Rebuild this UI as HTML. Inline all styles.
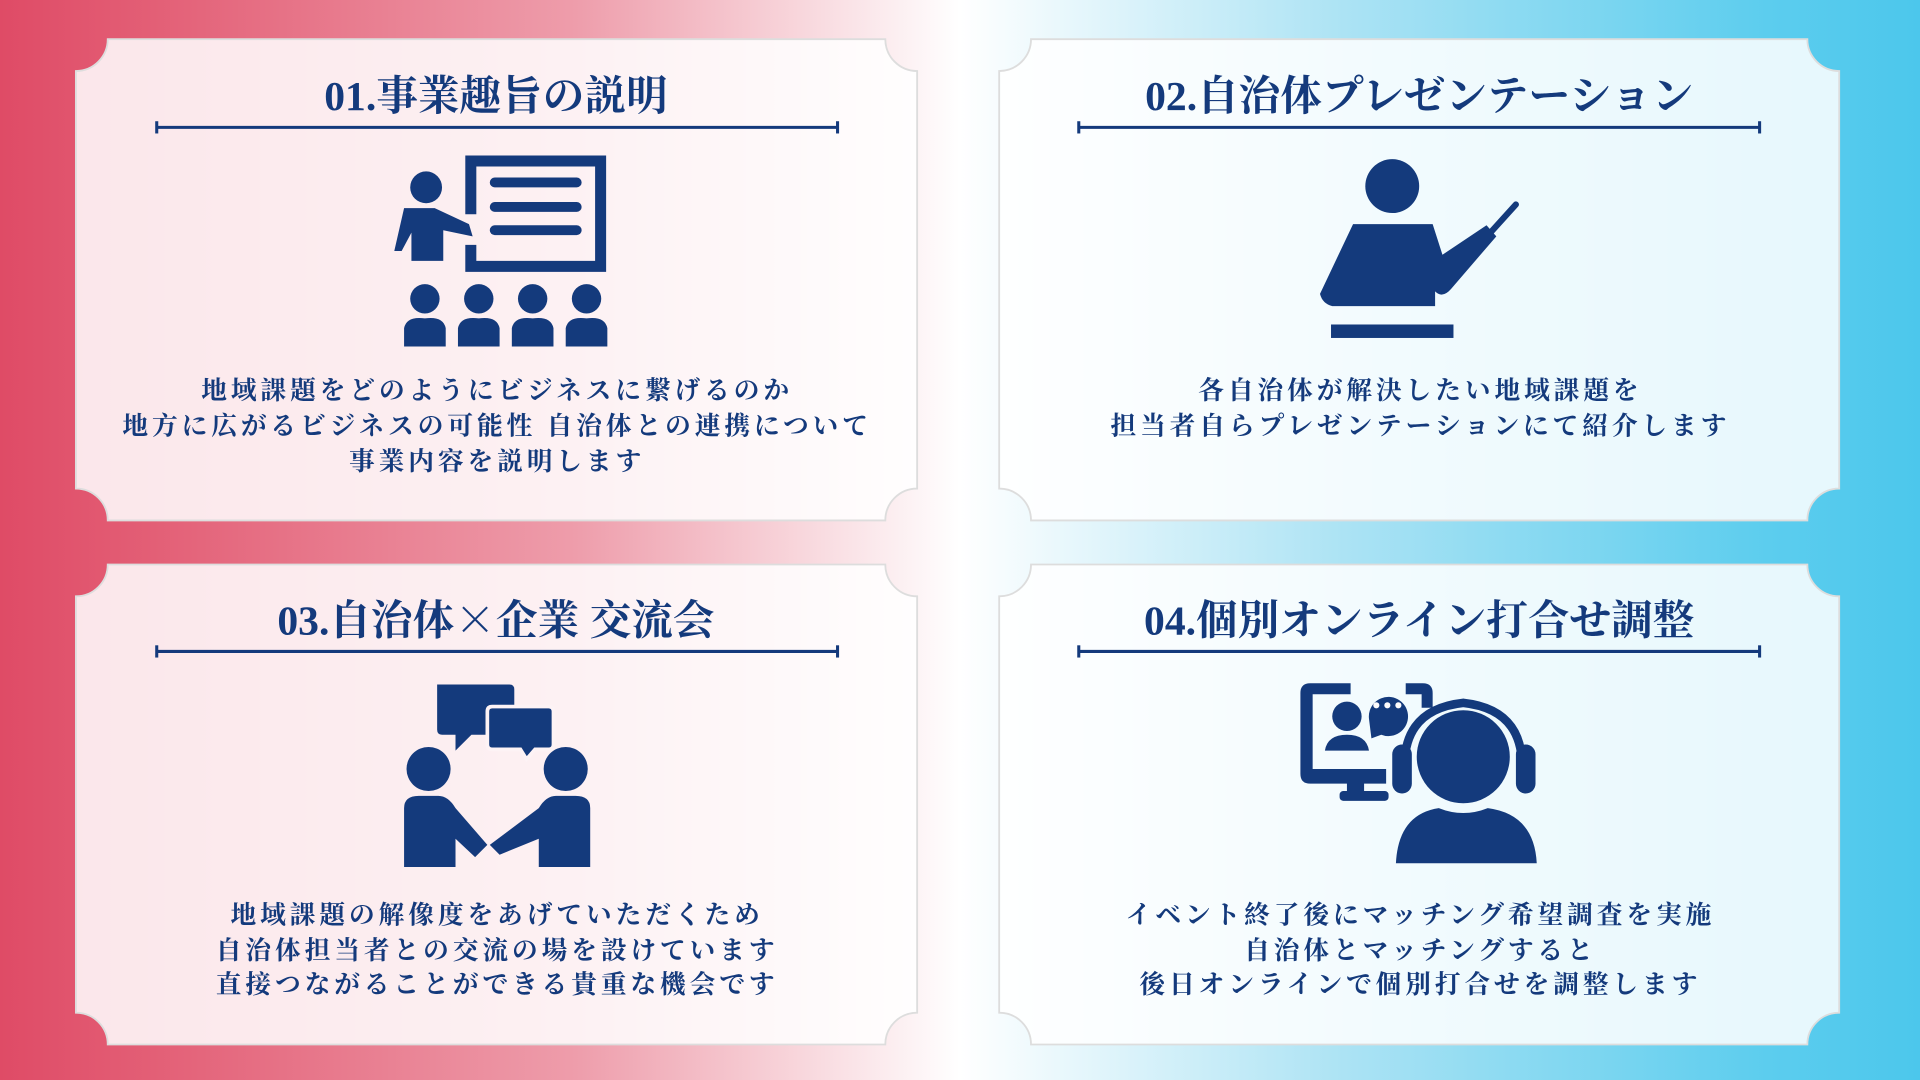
<!DOCTYPE html>
<html><head><meta charset="utf-8"><style>
html,body{margin:0;padding:0;width:1920px;height:1080px;overflow:hidden}
svg{display:block}
text{font-family:"Liberation Serif","Noto Serif CJK SC","Noto Serif CJK JP",serif;font-weight:bold;fill:#143a7c;text-anchor:middle}
.t{font-size:34px}
.b{font-size:21px;letter-spacing:3.2px}
.cj{font-family:"Noto Serif CJK SC",serif}
</style></head><body>
<svg width="1920" height="1080" viewBox="0 0 1568 882" xmlns="http://www.w3.org/2000/svg">
<defs>
<linearGradient id="bg" x1="0" x2="1" y1="0" y2="0">
<stop offset="0" stop-color="#df4b66"/>
<stop offset="0.08" stop-color="#e35f76"/>
<stop offset="0.3" stop-color="#ee9dab"/>
<stop offset="0.5" stop-color="#ffffff"/>
<stop offset="0.7" stop-color="#ace3f4"/>
<stop offset="0.92" stop-color="#5ccdee"/>
<stop offset="1" stop-color="#4cc7ec"/>
</linearGradient>
</defs>
<rect width="1568" height="882" fill="url(#bg)"/>
<g fill="#ffffff" fill-opacity="0.86" stroke="#dddddd" stroke-width="1.5">
<path d="M88,32 H723 A26,26 0 0 0 749,58 V399 A26,26 0 0 0 723,425 H88 A26,26 0 0 0 62,399 V58 A26,26 0 0 0 88,32 Z"/>
<path d="M842,32 H1476 A26,26 0 0 0 1502,58 V399 A26,26 0 0 0 1476,425 H842 A26,26 0 0 0 816,399 V58 A26,26 0 0 0 842,32 Z"/>
<path d="M88,461 H723 A26,26 0 0 0 749,487 V827 A26,26 0 0 0 723,853 H88 A26,26 0 0 0 62,827 V487 A26,26 0 0 0 88,461 Z"/>
<path d="M842,461 H1476 A26,26 0 0 0 1502,487 V827 A26,26 0 0 0 1476,853 H842 A26,26 0 0 0 816,827 V487 A26,26 0 0 0 842,461 Z"/>
</g>
<g stroke="#143a7c" stroke-width="2.5">
<line x1="128" y1="104" x2="684" y2="104"/><line x1="128" y1="99" x2="128" y2="109"/><line x1="684" y1="99" x2="684" y2="109"/>
<line x1="881" y1="104" x2="1437" y2="104"/><line x1="881" y1="99" x2="881" y2="109"/><line x1="1437" y1="99" x2="1437" y2="109"/>
<line x1="128" y1="532" x2="684" y2="532"/><line x1="128" y1="527" x2="128" y2="537"/><line x1="684" y1="527" x2="684" y2="537"/>
<line x1="881" y1="532" x2="1437" y2="532"/><line x1="881" y1="527" x2="881" y2="537"/><line x1="1437" y1="527" x2="1437" y2="537"/>
</g>
<text class="t" x="405" y="90">01.事業趣旨の説明</text>
<text class="t" x="1159" y="90">02.自治体プレゼンテーション</text>
<text class="t" x="405" y="518">03.自治体<tspan class="cj">×</tspan>企業 交流会</text>
<text class="t" x="1159" y="518">04.個別オンライン打合せ調整</text>
<text class="b" x="406" y="326">地域課題をどのようにビジネスに繋げるのか</text>
<text class="b" x="406" y="355">地方に広がるビジネスの可能性 自治体との連携について</text>
<text class="b" x="406" y="384">事業内容を説明します</text>
<text class="b" x="1160" y="326">各自治体が解決したい地域課題を</text>
<text class="b" x="1160" y="355">担当者自らプレゼンテーションにて紹介します</text>
<text class="b" x="406" y="754">地域課題の解像度をあげていただくため</text>
<text class="b" x="406" y="783">自治体担当者との交流の場を設けています</text>
<text class="b" x="406" y="811">直接つながることができる貴重な機会です</text>
<text class="b" x="1160" y="754">イベント終了後にマッチング希望調査を実施</text>
<text class="b" x="1160" y="783">自治体とマッチングすると</text>
<text class="b" x="1160" y="811">後日オンラインで個別打合せを調整します</text>
<g fill="#143a7c">
<path d="M380,127 H495 V222 H380 V200 H389 V213 H486 V136 H389 V175 H380 Z"/>
<rect x="400" y="145" width="75" height="8" rx="4"/><rect x="400" y="165" width="75" height="8" rx="4"/><rect x="400" y="184" width="75" height="8" rx="4"/>
<circle cx="348" cy="153" r="13"/>
<path d="M330,170 H355 L383,183 L386,193 L362,188 V213 H336 V190 L328,205 H322 Z"/>
<g><circle cx="347" cy="244" r="12"/><circle cx="391" cy="244" r="12"/><circle cx="435" cy="244" r="12"/><circle cx="479" cy="244" r="12"/>
<path d="M330,283 V268 Q332,258 347,260 Q362,258 364,268 V283 Z"/><path d="M374,283 V268 Q376,258 391,260 Q406,258 408,268 V283 Z"/><path d="M418,283 V268 Q420,258 435,260 Q450,258 452,268 V283 Z"/><path d="M462,283 V268 Q464,258 479,260 Q494,258 496,268 V283 Z"/></g>
<circle cx="1137" cy="152" r="22"/>
<path d="M1105,183 H1170 L1178,208 L1214,184 L1222,193 L1185,236 Q1178,244 1172,238 V250 H1092 L1088,250 Q1080,248 1078,240 Z"/>
<line x1="1190" y1="220" x2="1238" y2="167" stroke="#143a7c" stroke-width="5" stroke-linecap="round"/>
<rect x="1087" y="265" width="100" height="11"/>
<path d="M357,559 H416 Q420,559 420,563 V596 Q420,600 416,600 H385 L372,613 L372,600 H361 Q357,600 357,596 Z"/>
<path d="M402,577 H448 Q452,577 452,581 V608 Q452,612 448,612 H437 L430,620 L425,612 H402 Q398,612 398,608 V581 Q398,577 402,577 Z" stroke="#fdf3f5" stroke-width="3"/>
<circle cx="350" cy="628" r="18"/><circle cx="462" cy="628" r="18"/>
<path d="M330,708 V660 Q330,650 342,650 H358 Q366,650 372,660 L398,690 L388,700 L372,685 V708 Z"/>
<path d="M482,708 V660 Q482,650 470,650 H454 Q446,650 440,660 L400,690 L408,698 L440,685 V708 Z"/>
<path d="M1070,558 H1103 V567 H1072 V628 H1132 V640 H1070 Q1062,640 1062,632 V566 Q1062,558 1070,558 Z"/>
<path d="M1148,558 H1162 Q1170,558 1170,566 V578 H1161 V567 H1148 Z"/>
<rect x="1100" y="638" width="14" height="10"/><rect x="1094" y="646" width="40" height="8" rx="3"/>
<circle cx="1100" cy="585" r="12"/><path d="M1082,613 Q1084,600 1100,600 Q1116,600 1118,613 Z"/>
<path d="M1118,587 A16,16 0 1 1 1128,600 L1120,603 Z"/>
<circle cx="1195" cy="618" r="38"/>
<path d="M1140,705 Q1142,665 1175,660 Q1195,668 1215,660 Q1253,665 1255,705 Z"/>
<path d="M1148,640 Q1140,580 1195,574 Q1250,580 1242,640" fill="none" stroke="#143a7c" stroke-width="7"/>
<rect x="1137" y="608" width="16" height="40" rx="8"/><rect x="1238" y="608" width="16" height="40" rx="8"/>
</g>
<g fill="#fdfbfb"><circle cx="1124" cy="576" r="2.5"/><circle cx="1133" cy="576" r="2.5"/><circle cx="1142" cy="576" r="2.5"/></g>
</svg>
</body></html>
